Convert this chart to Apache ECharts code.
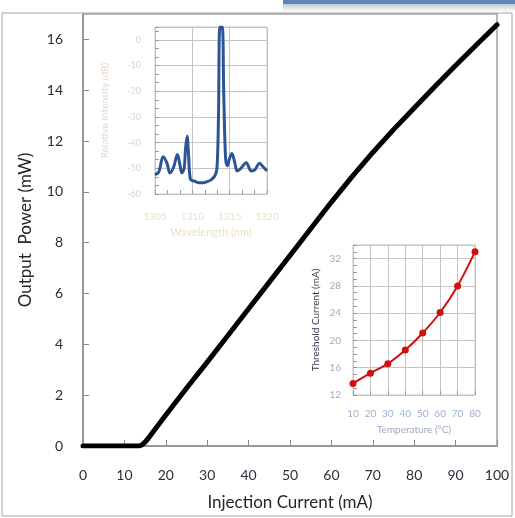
<!DOCTYPE html>
<html>
<head>
<meta charset="utf-8">
<style>
  html, body { margin: 0; padding: 0; background: #fff; }
  #chart { width: 515px; height: 518px; }
</style>
<script src="https://cdn.jsdelivr.net/npm/echarts@6/dist/echarts.min.js"></script>
</head>
<body>
<div id="chart"></div>
<script>
// L-I curve: injection current (mA) vs output power (mW)
const currentMA = [0, 2, 4, 6, 8, 10, 12, 13.6, 14.3, 15, 16, 17, 18, 20, 25, 30, 35, 40, 45, 50, 55, 60, 65, 70, 75, 80, 85, 90, 95, 100];
const powerMW   = [0, 0, 0, 0, 0, 0, 0, 0, 0.05, 0.15, 0.35, 0.57, 0.79, 1.22, 2.27, 3.3, 4.35, 5.4, 6.45, 7.5, 8.55, 9.6, 10.6, 11.55, 12.45, 13.3, 14.15, 14.97, 15.78, 16.58];

// Inset: emission spectrum, wavelength (nm) vs relative intensity (dB)
const wavelengthNM = [1305.0, 1305.5, 1306.1, 1306.6, 1307.0, 1307.5, 1308.0, 1308.3, 1308.6, 1308.9, 1309.1, 1309.3, 1309.5, 1309.75, 1310.3, 1310.8, 1311.4, 1311.9, 1312.5, 1313.0, 1313.3, 1313.5, 1313.7, 1314.0, 1314.2, 1314.45, 1314.7, 1315.0, 1315.3, 1315.7, 1316.0, 1316.5, 1317.2, 1317.9, 1318.4, 1319.0, 1319.5, 1320.0];
const intensityDB  = [-52.5, -51.5, -45.5, -48.0, -51.8, -49.5, -44.6, -48.0, -51.8, -50.0, -42.0, -37.5, -45.0, -54.3, -55.0, -55.6, -55.6, -55.3, -54.5, -53.0, -50.0, -30.0, 5.0, 5.0, -20.0, -46.0, -49.0, -46.0, -44.2, -48.0, -51.0, -50.0, -47.8, -51.0, -50.5, -48.0, -49.5, -51.0];

// Inset: threshold current vs temperature
const temperatureC = [10, 20, 30, 40, 50, 60, 70, 80];
const thresholdMA  = [13.7, 15.2, 16.6, 18.6, 21.1, 24.1, 28.0, 33.0];

const FONT = 'Lato, "Open Sans", sans-serif';
const AXIS_GRAY = '#8c8c8c';
const GRID_GRAY = '#c4c4c4';
const TICK_GRAY = '#9a9a9a';
const plain = v => String(v);

const chart = echarts.init(document.getElementById('chart'), null, { renderer: 'canvas' });

// inset axes share the same look: no axis line, short inward ticks, grey grid
function insetAxis(extra, minorSplit) {
  const axis = {
    type: 'value',
    nameLocation: 'middle',
    axisLine: { show: false, onZero: false },
    axisTick: { show: true, inside: true, length: 4, lineStyle: { color: TICK_GRAY } },
    splitLine: { show: true, lineStyle: { color: GRID_GRAY, width: 1 } }
  };
  if (minorSplit) {
    axis.minorTick = { show: true, splitNumber: minorSplit, length: 4, lineStyle: { color: TICK_GRAY } };
  }
  return Object.assign(axis, extra);
}

const option = {
  backgroundColor: '#ffffff',
  animation: false,
  graphic: [
    // page frame
    { type: 'rect', shape: { x: 2, y: 13, width: 510, height: 503 }, style: { fill: 'none', stroke: '#a6a6a6', lineWidth: 1 }, z: 0 },
    // title bar strip at top right
    { type: 'rect', shape: { x: 283, y: 0, width: 232, height: 4 }, style: { fill: '#5b86bd' }, z: 1 },
    { type: 'rect', shape: { x: 283, y: 4, width: 232, height: 8 },
      style: { fill: new echarts.graphic.LinearGradient(0, 0, 0, 1, [{ offset: 0, color: '#c3c9d2' }, { offset: 1, color: '#ffffff' }]) }, z: 1 }
  ],
  grid: [
    { left: 83, top: 14, right: 18, bottom: 72, show: true, borderColor: '#a0a0a0', borderWidth: 1.5, backgroundColor: 'transparent' },
    { left: 155, top: 27, width: 112, height: 167, show: true, borderColor: GRID_GRAY, borderWidth: 1, backgroundColor: '#ffffff' },
    { left: 353, top: 245, width: 122, height: 150, show: true, borderColor: GRID_GRAY, borderWidth: 1, backgroundColor: '#ffffff' }
  ],
  xAxis: [
    {
      gridIndex: 0, type: 'value', min: 0, max: 100, interval: 10,
      name: 'Injection Current (mA)', nameLocation: 'middle', nameGap: 48,
      nameTextStyle: { fontFamily: FONT, fontSize: 17, color: '#262626' },
      axisLine: { lineStyle: { color: AXIS_GRAY, width: 1.5 } },
      axisTick: { inside: true, length: 6, lineStyle: { color: AXIS_GRAY } },
      axisLabel: { margin: 22, fontFamily: FONT, fontSize: 14, color: '#2d2d3a' },
      splitLine: { show: false }
    },
    insetAxis({
      gridIndex: 1, min: 1305, max: 1320, interval: 5,
      name: 'Wavelength (nm)', nameGap: 33,
      nameTextStyle: { fontFamily: FONT, fontSize: 11, color: 'rgba(215,190,140,0.5)' },
      axisLabel: { margin: 18, fontFamily: FONT, fontSize: 10, color: 'rgba(215,190,140,0.5)', formatter: plain }
    }, 3),
    insetAxis({
      gridIndex: 2, min: 10, max: 80, interval: 10,
      name: 'Temperature (°C)', nameGap: 30,
      nameTextStyle: { fontFamily: FONT, fontSize: 10, color: '#a0a8b8' },
      axisLabel: { margin: 14, fontFamily: FONT, fontSize: 10, color: '#9ab0d4', formatter: plain }
    }, 0)
  ],
  yAxis: [
    {
      gridIndex: 0, type: 'value', min: 0, max: 17, interval: 2,
      name: 'Output  Power (mW)', nameLocation: 'middle', nameGap: 49,
      nameTextStyle: { fontFamily: FONT, fontSize: 17, color: '#262626' },
      axisLine: { lineStyle: { color: AXIS_GRAY, width: 1.5 } },
      axisTick: { inside: true, length: 6, lineStyle: { color: AXIS_GRAY } },
      axisLabel: { margin: 20, fontFamily: FONT, fontSize: 14, color: '#2d2d3a', showMaxLabel: false },
      splitLine: { show: false }
    },
    insetAxis({
      gridIndex: 1, min: -60, max: 5, interval: 10,
      name: 'Relative Intensity (dB)', nameGap: 45,
      nameTextStyle: { fontFamily: FONT, fontSize: 10, color: 'rgba(200,175,150,0.5)' },
      axisLabel: { margin: 14, fontFamily: FONT, fontSize: 9, color: 'rgba(170,170,190,0.5)', showMaxLabel: false, formatter: plain }
    }, 3),
    insetAxis({
      gridIndex: 2, min: 12, max: 34, interval: 4,
      name: 'Threshold Current (mA)', nameGap: 32,
      nameTextStyle: { fontFamily: FONT, fontSize: 10, color: '#3a3a4a' },
      axisLabel: { margin: 12, fontFamily: FONT, fontSize: 10, color: '#a0a8cc', showMaxLabel: false, formatter: plain }
    }, 4)
  ],
  series: [
    {
      type: 'line', xAxisIndex: 0, yAxisIndex: 0,
      data: currentMA.map((c, i) => [c, powerMW[i]]),
      showSymbol: false, smooth: false, z: 3,
      lineStyle: { color: '#000000', width: 5, cap: 'round', join: 'round' }
    },
    {
      type: 'line', xAxisIndex: 1, yAxisIndex: 1,
      data: wavelengthNM.map((w, i) => [w, intensityDB[i]]),
      showSymbol: false, smooth: 0.35, clip: true, z: 6,
      lineStyle: { color: '#2b5594', width: 3, join: 'round' }
    },
    {
      type: 'line', xAxisIndex: 2, yAxisIndex: 2,
      data: temperatureC.map((t, i) => [t, thresholdMA[i]]),
      smooth: 0.3, symbol: 'circle', symbolSize: 7, z: 6,
      itemStyle: { color: '#d01010' },
      lineStyle: { color: '#d01010', width: 2 }
    }
  ]
};

chart.setOption(option);
</script>
</body>
</html>
